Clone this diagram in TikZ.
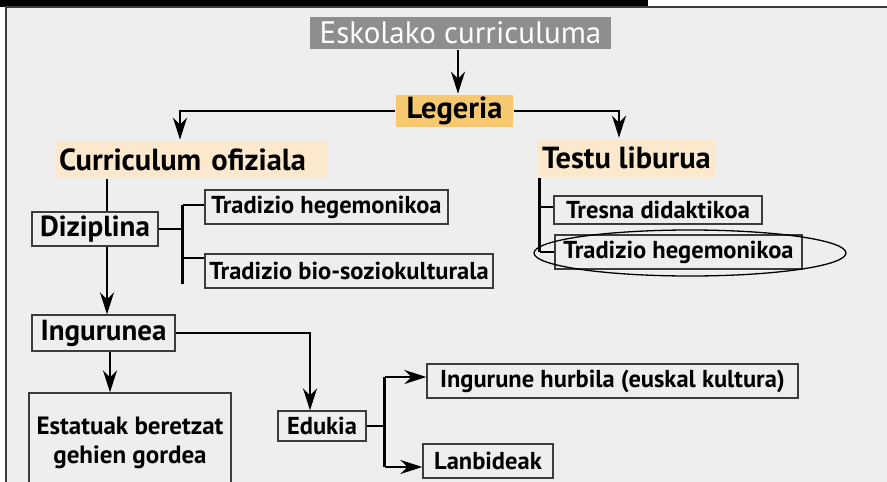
\documentclass[tikz,border=0pt]{standalone}
\usepackage{fontspec}
\setmainfont{PT Sans}
\usepackage{tikz}
\usetikzlibrary{arrows.meta}
\definecolor{panel}{RGB}{238, 238, 238}
\definecolor{frame}{RGB}{60, 60, 60}
\definecolor{greybox}{RGB}{142, 142, 142}
\definecolor{orange}{RGB}{246, 200, 112}
\definecolor{peach}{RGB}{252, 233, 205}

\begin{document}
\begin{tikzpicture}[x=1pt, y=-1pt, line width=2.7pt,
    arr/.style={-{Stealth[length=22pt, width=14pt, inset=7pt]}},
    box/.style={draw=frame, line width=1.3pt, fill=panel, inner sep=0pt,
        font=\bfseries\fontsize{24.5}{28}\selectfont},
    bigbox/.style={box, font=\bfseries\fontsize{29}{32}\selectfont},
    band/.style={inner sep=0pt, font=\bfseries\fontsize{30.5}{34}\selectfont}]

    \useasboundingbox (0, 0) rectangle (887, 482);
    % frame and title strip
    \fill[white] (0, 0) rectangle (887, 482);
    \fill[black] (0, 0) rectangle (648, 7);
    \draw[draw=frame, fill=panel, line width=1.3pt] (6, 500) -- (6, 7) -- (895, 7) -- (895, 500) -- cycle;

    % top of the tree
    \node[band, fill=greybox, text=white, font=\fontsize{31}{34}\selectfont,
        minimum width=301pt, minimum height=32pt] (eskola) at (460.5, 33) {Eskolako curriculuma};
    \node[band, fill=orange, minimum width=117pt, minimum height=32pt] (legeria) at (454.5, 111) {Legeria};
    \node[band, fill=peach, text width=266pt, align=left, inner xsep=3pt,
        minimum height=37pt] (curri) at (192, 159.5) {Curriculum ofiziala};
    \node[band, fill=peach, minimum width=177pt, minimum height=38pt] (testu) at (626.5, 158) {Testu liburua};

    % left side
    \node[bigbox, minimum width=126pt, minimum height=34pt] (dizi) at (95, 229) {Diziplina};
    \node[box, minimum width=243pt, minimum height=34pt] (trh1) at (326.5, 207) {Tradizio hegemonikoa};
    \node[box, minimum width=288pt, minimum height=34pt] (trbio) at (349, 271) {Tradizio bio-soziokulturala};
    \node[bigbox, minimum width=143pt, minimum height=36pt] (ingur) at (103.5, 333) {Ingurunea};
    \node[box, minimum width=202pt, minimum height=100pt, align=center,
        font=\bfseries\fontsize{25}{29}\selectfont] (estat) at (130, 443) {Estatuak beretzat\\gehien gordea};
    \node[box, minimum width=88pt, minimum height=30pt] (eduk) at (322, 426) {Edukia};
    \node[box, minimum width=371pt, minimum height=34pt] (inghur) at (612.5, 381) {Ingurune hurbila (euskal kultura)};
    \node[box, minimum width=130pt, minimum height=34pt] (lanb) at (488, 461) {Lanbideak};

    % right side
    \node[box, minimum width=208pt, minimum height=28pt] (tresna) at (658, 210) {Tresna didaktikoa};
    \node[box, minimum width=247pt, minimum height=34pt] (trh2) at (678.5, 252) {Tradizio hegemonikoa};
    \draw[line width=1.3pt, draw=black] (690, 253) ellipse (156pt and 23pt);

    % connectors
    \draw[arr] ([xshift=-2.5pt]eskola.south) -- ([xshift=-2.5pt]eskola.south |- legeria.north);
    \draw[arr] (legeria.west) -| ([xshift=-12pt]curri.north);
    \draw[arr] (legeria.east) -| ([xshift=-7.5pt]testu.north);
    \draw ([xshift=12pt]dizi.north) -- ([xshift=12pt]dizi.north |- curri.south);
    \draw (dizi.east) -- ++(24, 0) coordinate (b1);
    \draw ([yshift=2pt]b1 |- trh1.west) -- ([yshift=-13pt]b1 |- trbio.west);
    \draw ([yshift=2pt]b1 |- trh1.west) -- ([yshift=2pt]trh1.west);
    \draw ([yshift=13pt]b1 |- trbio.west) -- ([yshift=13pt]trbio.west);
    \draw[arr] ([xshift=12pt]dizi.south) -- ([xshift=12pt]dizi.south |- ingur.north);
    \draw[arr] (ingur.east) -| ([xshift=-12pt]eduk.north);
    \draw[arr] ([xshift=6.5pt]ingur.south) -- ([xshift=6.5pt]ingur.south |- estat.north);
    \draw (eduk.east) -- ++(18, 0) coordinate (b2);
    \draw ([yshift=4pt]b2 |- inghur.west) -- ([yshift=-6pt]b2 |- lanb.west);
    \draw[arr] ([yshift=4pt]b2 |- inghur.west) -- ([yshift=4pt]inghur.west);
    \draw[arr] ([yshift=-6pt]b2 |- lanb.west) -- ([yshift=-6pt]lanb.west);
    \draw ([xshift=3pt]testu.south west) -- ([xshift=3pt]testu.south west |- trh2.west) coordinate (b3);
    \draw ([yshift=3pt]b3 |- tresna.west) -- ([yshift=3pt]tresna.west);
    \draw (b3) -- (trh2.west);

\end{tikzpicture}
\end{document}
